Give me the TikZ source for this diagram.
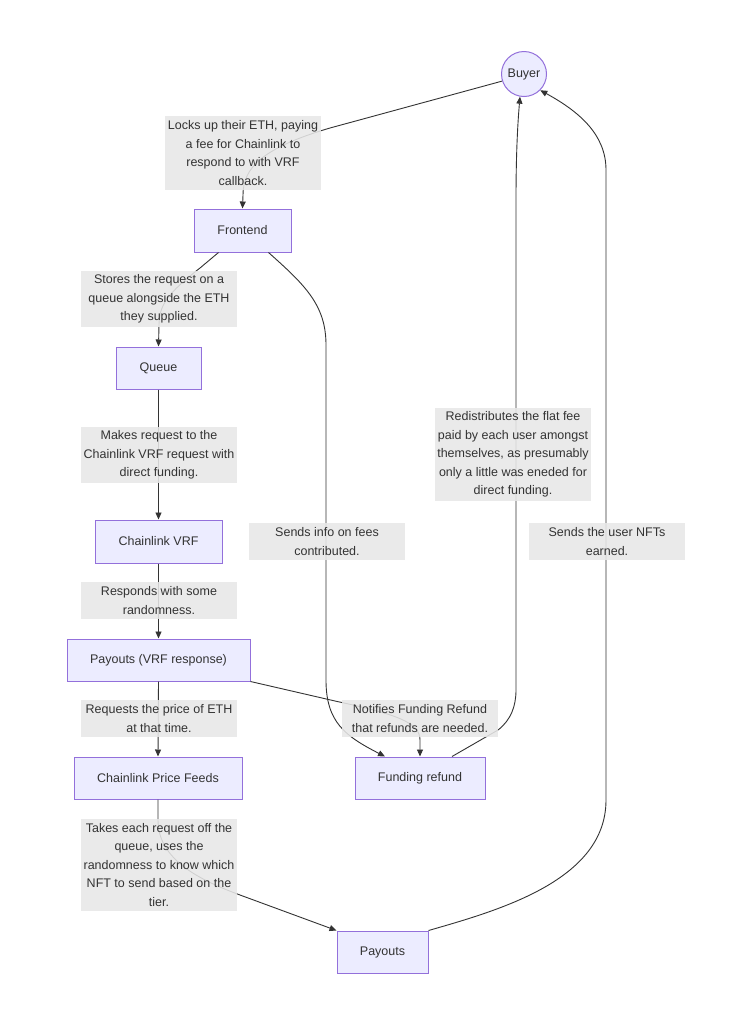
\documentclass[tikz,border=0pt]{standalone}
\usepackage{fontspec}
\setmainfont{Liberation Sans}
\usetikzlibrary{arrows.meta}
\definecolor{nodefill}{HTML}{ECECFF}
\definecolor{nodeline}{HTML}{9370DB}
\definecolor{txt}{HTML}{333333}
\definecolor{lblfill}{HTML}{E8E8E8}
\begin{document}
\begin{tikzpicture}[x=1pt,y=-1pt,
 box/.style={draw=nodeline, fill=nodefill, line width=1pt, text=txt, inner sep=0pt, font=\fontsize{12.5}{15}\selectfont},
 lbl/.style={fill=lblfill, fill opacity=0.87, text opacity=1, text=txt, align=center, inner sep=0pt, minimum width=156pt, font=\fontsize{12.5}{18.5}\selectfont},
 edge/.style={draw=txt, line width=0.9pt, -{Triangle[length=7pt,width=6pt]}},
]
\useasboundingbox[fill=white] (0,0) rectangle (747,1029);
% nodes
\node[box, circle, minimum size=45pt] (Buyer) at (524,74) {Buyer};
\node[box, minimum width=97pt, minimum height=43pt] (Frontend) at (242.5,230.5) {Frontend};
\node[box, minimum width=85pt, minimum height=42pt] (Queue) at (158.5,368) {Queue};
\node[box, minimum width=127pt, minimum height=43pt] (VRF) at (158.5,541.5) {Chainlink VRF};
\node[box, minimum width=183pt, minimum height=42pt] (PVRF) at (158.5,660) {Payouts (VRF response)};
\node[box, minimum width=168pt, minimum height=42pt] (PF) at (158,778) {Chainlink Price Feeds};
\node[box, minimum width=130pt, minimum height=42pt] (Fund) at (420,778) {Funding refund};
\node[box, minimum width=91pt, minimum height=42pt] (Pay) at (382.5,952) {Payouts};
% edges
\draw[edge] (Buyer.198) -- (330,128) .. controls (262,148) and (243,168) .. (243,195) -- (Frontend.north);
\draw[edge] ([xshift=-24pt]Frontend.south) -- (200,268) .. controls (168,293) and (159,305) .. (159,325) -- (Queue.north);
\draw[edge] ([xshift=26pt]Frontend.south) .. controls (305,285) and (326,305) .. (326,345) -- (326,680) .. controls (326,722) and (345,736) .. ([xshift=-35pt]Fund.north);
\draw[edge] (Queue.south) -- (VRF.north);
\draw[edge] (VRF.south) -- (PVRF.north);
\draw[edge] (PVRF.south) -- (PF.north);
\draw[edge] (PVRF.south east) -- (335,701) .. controls (395,714) and (420,722) .. (420,740) -- (Fund.north);
\draw[edge] ([xshift=32pt]Fund.north) -- (498,730) .. controls (511,720) and (516,706) .. (516,690) -- (516,200) .. controls (516,150) and (518,120) .. (Buyer.260);
\draw[edge] (PF.south) -- (158,820) .. controls (158,860) and (200,880) .. (240,895) -- (Pay.north west);
\draw[edge] (Pay.north east) .. controls (500,910) and (606,880) .. (606,800) -- (606,170) .. controls (606,135) and (580,112) .. (Buyer.315);
% labels
\node[lbl, minimum height=74pt] (L1) at (243,153) {Locks up their ETH, paying\\a fee for Chainlink to\\respond to with VRF\\callback.};
\node[lbl, minimum height=56pt] (L2) at (159,299) {Stores the request on a\\queue alongside the ETH\\they supplied.};
\node[lbl, minimum height=56pt] (L3) at (159,455) {Makes request to the\\Chainlink VRF request with\\direct funding.};
\node[lbl, minimum height=37pt] (L4) at (327,541.5) {Sends info on fees\\contributed.};
\node[lbl, minimum height=37pt] (L5) at (159,600.5) {Responds with some\\randomness.};
\node[lbl, minimum height=37pt] (L6) at (159,718.5) {Requests the price of ETH\\at that time.};
\node[lbl, minimum height=37pt] (L7) at (420,718.5) {Notifies Funding Refund\\that refunds are needed.};
\node[lbl, minimum height=93pt] (L8) at (513,454.5) {Redistributes the flat fee\\paid by each user amongst\\themselves, as presumably\\only a little was eneded for\\direct funding.};
\node[lbl, minimum height=37pt] (L9) at (607,541.5) {Sends the user NFTs\\earned.};
\node[lbl, minimum height=92pt] (L10) at (159,865) {Takes each request off the\\queue, uses the\\randomness to know which\\NFT to send based on the\\tier.};
\end{tikzpicture}
\end{document}
